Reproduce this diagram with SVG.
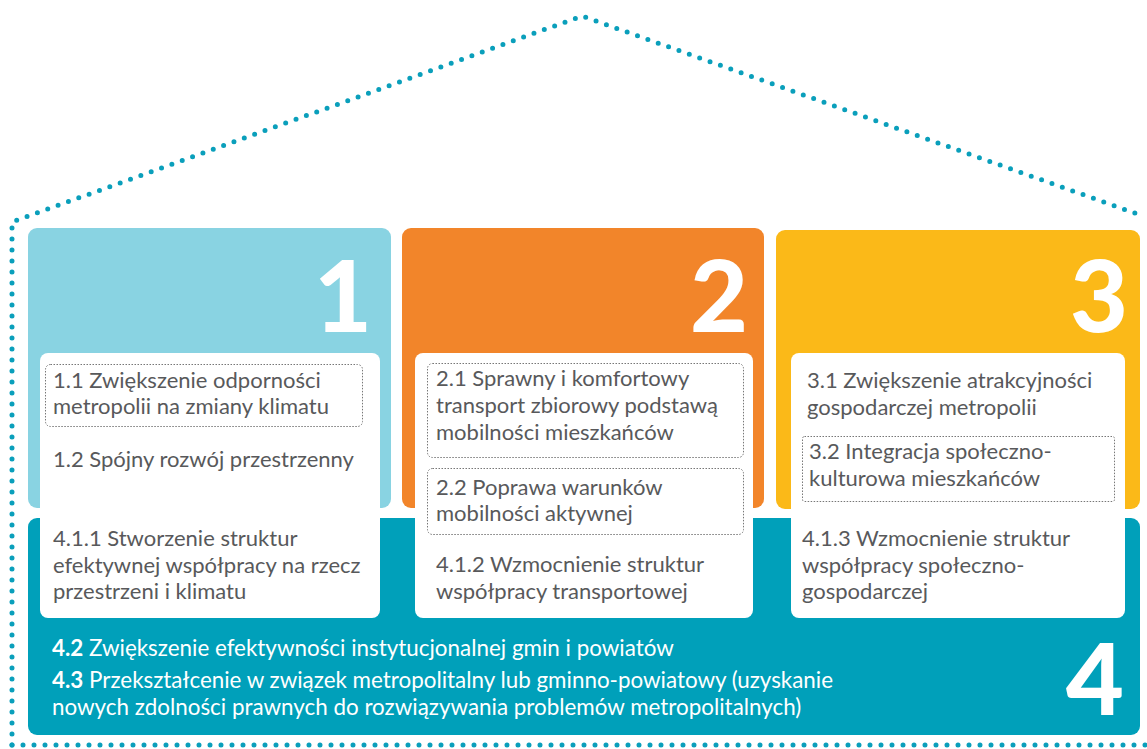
<svg xmlns="http://www.w3.org/2000/svg" width="1147" height="749" viewBox="0 0 1147 749">
<style>
.t{font-family:Lato,"Noto Sans",sans-serif;font-size:22px;fill:#58595b}
.w{font-family:Lato,"Noto Sans",sans-serif;font-size:22.4px;fill:#ffffff}
.num{font-family:Lato,"Noto Sans",sans-serif;font-size:100px;font-weight:900;fill:#ffffff;text-anchor:end}
.dot{fill:none;stroke:#0a9fbb;stroke-width:5;stroke-linecap:round;stroke-dasharray:0 11}
.box{fill:#ffffff}
.sub{fill:none;stroke:#777;stroke-width:1;stroke-dasharray:1.5 1.5}
</style>
<g id="outline">
<path class="dot" d="M12 745 L12 222 L582 16 L1143 216"/>
<path class="dot" d="M12 745 L1147 745"/>
</g>
<g id="pillar4">
<rect x="28" y="518" width="1112" height="217" rx="9" fill="#00a0ba"/>
</g>
<g id="pillar1">
<rect x="28" y="228" width="363" height="280" rx="9" fill="#89d3e2"/>
<text class="num" x="372" y="332">1</text>
<rect class="box" x="40" y="353" width="340" height="265" rx="8"/>
<rect class="sub" x="45.5" y="364.5" width="317" height="62" rx="5"/>
<text class="t" x="53" y="388">1.1 Zwiększenie odporności</text>
<text class="t" x="53" y="414">metropolii na zmiany klimatu</text>
<text class="t" x="53" y="467">1.2 Spójny rozwój przestrzenny</text>
<text class="t" x="53" y="546">4.1.1 Stworzenie struktur</text>
<text class="t" x="53" y="573">efektywnej współpracy na rzecz</text>
<text class="t" x="53" y="599">przestrzeni i klimatu</text>
</g>
<g id="pillar2">
<rect x="402" y="228" width="362" height="280" rx="9" fill="#f2852a"/>
<text class="num" x="748" y="332">2</text>
<rect class="box" x="415" y="353" width="338" height="265" rx="8"/>
<rect class="sub" x="427.5" y="363.5" width="316" height="94" rx="5"/>
<text class="t" x="436" y="386">2.1 Sprawny i komfortowy</text>
<text class="t" x="436" y="413">transport zbiorowy podstawą</text>
<text class="t" x="436" y="440">mobilności mieszkańców</text>
<rect class="sub" x="427.5" y="468.5" width="316" height="66" rx="5"/>
<text class="t" x="436" y="495">2.2 Poprawa warunków</text>
<text class="t" x="436" y="521">mobilności aktywnej</text>
<text class="t" x="436" y="572">4.1.2 Wzmocnienie struktur</text>
<text class="t" x="436" y="599">współpracy transportowej</text>
</g>
<g id="pillar3">
<rect x="776" y="230" width="364" height="279" rx="9" fill="#fbb918"/>
<text class="num" x="1128" y="332">3</text>
<rect class="box" x="791" y="353" width="334" height="265" rx="8"/>
<text class="t" x="807" y="388">3.1 Zwiększenie atrakcyjności</text>
<text class="t" x="807" y="415">gospodarczej metropolii</text>
<rect class="sub" x="802.5" y="436.5" width="312" height="65" rx="2"/>
<text class="t" x="809" y="459">3.2 Integracja społeczno-</text>
<text class="t" x="809" y="486">kulturowa mieszkańców</text>
<text class="t" x="802" y="546">4.1.3 Wzmocnienie struktur</text>
<text class="t" x="802" y="573">współpracy społeczno-</text>
<text class="t" x="802" y="599">gospodarczej</text>
</g>
<g id="pillar4-text">
<text class="w" x="52" y="656"><tspan font-weight="bold">4.2</tspan> Zwiększenie efektywności instytucjonalnej gmin i powiatów</text>
<text class="w" x="52" y="688"><tspan font-weight="bold">4.3</tspan> Przekształcenie w związek metropolitalny lub gminno-powiatowy (uzyskanie</text>
<text class="w" x="52" y="715">nowych zdolności prawnych do rozwiązywania problemów metropolitalnych)</text>
<text class="num" x="1124" y="715">4</text>
</g>
</svg>
